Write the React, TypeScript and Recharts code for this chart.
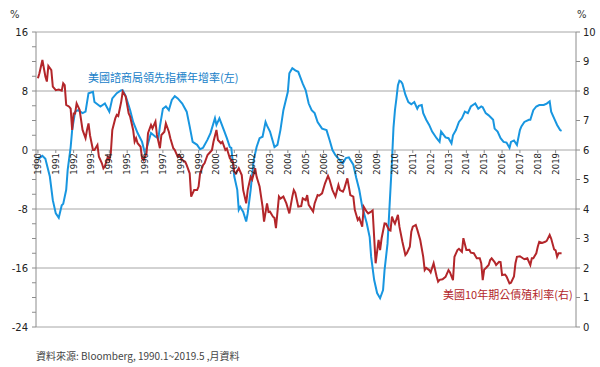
import { LineChart, Line, XAxis, YAxis, CartesianGrid } from "recharts";

// months counted from 1990-01 (0 = 1990.1)
const leiMonths = [
  0, 1, 3, 5, 8, 10, 12, 14, 16, 17, 19, 20, 22, 23, 25, 27, 30, 32, 34, 37, 38, 42, 45, 48, 50, 53, 56, 57, 59,
  62, 64, 67, 70, 72, 74, 76, 79, 81, 82, 84, 86, 88, 90, 92, 94, 97, 100, 102, 104, 107, 109, 111, 114, 116,
  119, 120, 122, 125, 127, 129, 130, 132, 134, 135, 136, 138, 140, 141, 143, 145, 147, 149, 151, 153, 154, 156,
  159, 161, 163, 165, 168, 169, 171, 173, 175, 178, 180, 182, 184, 186, 188, 191, 194, 196, 198, 200, 203, 205,
  207, 209, 212, 214, 216, 218, 221, 223, 224, 226, 228, 230, 232, 233, 235, 236, 238, 239, 240, 241, 242, 243,
  244, 245, 247, 249, 251, 253, 255, 256, 258, 259, 261, 263, 265, 268, 270, 271, 274, 276, 278, 279, 281, 283,
  285, 287, 289, 291, 294, 296, 298, 299, 301, 303, 306, 307, 309, 311, 313, 315, 317, 318, 320, 322, 324, 325,
  327, 330, 331, 333, 335, 337, 340, 342, 344, 345, 347, 349, 351, 352,
];
const leiValues = [
  -1.0, -1.1, -0.8, -1.2, -3.6, -6.8, -8.6, -9.2, -7.5, -7.3, -5.4, -2.7, 0.4, 2.7, 5.2, 5.4, 5.0, 5.2, 7.7, 7.9,
  6.5, 5.9, 6.3, 5.2, 7.0, 7.7, 8.1, 8.1, 7.3,
  5.4, 3.8, 2.3, 1.1, -0.5, 0.9, 2.3, 1.8, 1.6, 3.2, 5.6, 5.9, 5.4, 6.8, 7.3, 7.0, 6.3, 5.2, 3.2, 1.1, 0.7, 0.1,
  0.3, 1.4, 2.3,
  4.3, 3.4, 4.3, 2.7, 1.6, 0.4, 0.3, -3.6, -5.4, -8.1, -7.7, -8.4, -9.7, -8.6, -5.4, -1.4, 0.4, 1.6, 1.8, 3.8,
  3.3, 2.5,
  0.4, 0.7, 2.7, 5.4, 7.9, 10.4, 11.1, 10.8, 10.6, 9.0, 8.1, 6.3, 5.4, 5.0, 3.8, 2.9, 2.7, 1.4, 0.0, -0.7, -1.4,
  -1.8,
  -1.1, -1.0, -2.0, -3.8, -5.4, -7.7, -9.9, -11.8, -14.5, -17.6, -19.4, -20.1, -19.0, -16.3, -12.7, -9.0, -1.5,
  3.0, 5.4, 7.0, 8.8, 9.4,
  9.3, 9.0, 7.5, 6.5, 6.2, 6.5, 5.6, 6.0, 6.1, 5.0, 4.1, 3.4, 2.5, 1.6, 1.1, 2.5, 1.7, 1.6, 0.9, 2.0, 2.7, 3.8,
  4.3, 5.2, 5.0, 5.9, 6.3, 5.6, 5.9, 5.8, 5.0, 4.7, 4.1, 2.9, 2.5, 1.6, 1.1, 1.0, 0.3, 1.1, 1.3, 0.7, 2.7, 3.2,
  3.8, 4.1, 4.1, 5.4, 5.9, 6.1, 6.1, 6.3, 6.6, 5.2, 4.3, 3.4, 2.7, 2.6,
];

const ustMonths = [
  0, 1, 3, 5, 6, 7, 9, 10, 12, 14, 16, 17, 18, 19, 21, 22, 23, 24, 25, 26, 28, 30, 32, 33, 34, 35, 37, 38, 40, 41,
  43, 44, 45, 47, 48, 49, 50, 52, 53, 54, 56, 57, 59, 61, 62, 64, 65, 66, 67, 69, 70, 71, 73, 74, 76, 77, 79, 80,
  82, 83, 85, 86, 88, 89, 91, 92, 94, 95, 97, 99, 100, 102, 103, 105, 107, 108, 109, 111, 112, 114, 116, 117, 118,
  120, 121, 123, 124, 126, 127, 129, 131, 132, 133, 135, 137, 138, 140, 141, 143, 144, 146, 147, 149, 151, 152,
  154, 155, 156, 158, 159, 160, 162, 163, 165, 167, 169, 171, 172, 173, 175, 177, 178, 180, 181, 182, 185, 186,
  188, 189, 191, 193, 195, 196, 198, 200, 202, 203, 205, 206, 208, 209, 210, 212, 213, 215, 216, 218, 219, 221,
  222, 224, 225, 226, 227, 229, 230, 231, 233, 234, 236, 237, 238, 239, 240, 242, 243, 245, 247, 248, 250, 251,
  252, 254, 255, 257, 259, 260, 261, 263, 264, 266, 268, 269, 270, 272, 274, 276, 277, 279, 280, 282, 283, 285,
  286, 288, 290, 291, 293, 295, 297, 298, 299, 300, 301, 303, 304, 305, 307, 308, 310, 311, 312, 314, 315, 317,
  318, 320, 321, 322, 324, 326, 327, 329, 331, 332, 333, 335, 336, 337, 339, 341, 342, 344, 345, 347, 348, 349,
  350, 352,
];
const ustValues = [
  8.43, 8.6, 9.05, 8.49, 8.32, 8.85, 8.71, 8.15, 8.03, 8.05, 8.01, 8.26, 8.2, 7.53, 7.47, 7.4, 6.68, 7.24, 7.24,
  7.58, 7.36, 6.68, 6.4, 6.68, 6.9, 6.5, 6.0, 6.0, 6.17, 5.77,
  5.55, 5.38, 5.45, 5.77, 5.66, 5.9, 6.68, 7.07, 7.19, 7.15, 7.64, 7.98, 7.81, 7.24, 7.13, 6.68, 6.28, 6.4, 6.23,
  6.11, 5.72, 5.66, 5.89, 6.57, 6.85, 6.73, 6.96, 6.51,
  6.06, 6.51, 6.62, 6.9, 6.62, 6.4, 6.06, 6.0, 5.77, 5.83, 5.66, 5.6, 5.49, 5.21, 4.42, 4.64, 4.64, 4.76, 5.21,
  5.49, 5.55, 5.83, 5.94, 6.0, 6.28,
  6.68, 6.34, 6.23, 6.28, 6.0, 6.05, 5.72, 5.6, 5.26, 5.2, 5.38, 5.15, 4.64, 4.19, 4.64, 5.09, 5.0, 5.38, 5.09,
  4.76, 4.08, 3.57,
  4.19, 3.9, 3.91, 3.74, 3.7, 3.35, 4.42, 4.35, 4.42, 4.19, 3.85, 4.42, 4.64, 4.55, 4.08, 4.1, 4.36, 4.3, 4.47,
  4.14, 3.91, 4.19,
  4.47, 4.45, 4.53, 4.87, 5.12, 5.0, 4.64, 4.42, 4.81, 4.64, 4.59, 4.7, 5.04, 4.76, 4.47, 4.42, 3.97, 3.63, 3.7,
  3.4, 4.08, 3.91,
  3.85, 3.91, 3.95, 3.06, 2.16, 2.95, 2.61, 3.0, 3.51, 3.5, 3.29, 3.27, 3.74, 3.6, 3.5, 3.8, 3.4, 2.89, 2.44, 2.5,
  2.72, 3.23,
  3.4, 3.46, 3.3, 2.95, 2.38, 1.93, 2.0, 1.93, 1.85, 2.16, 1.71, 1.54, 1.6, 1.62, 1.7, 1.93, 1.85, 1.59, 2.38,
  2.61, 2.65, 2.55,
  3.01, 2.61, 2.62, 2.52, 2.5, 2.33, 2.33, 2.16, 1.59, 1.95, 1.99, 2.1, 2.27, 2.33, 2.2, 2.1, 2.21, 2.2, 1.76,
  1.78, 1.71, 1.48,
  1.5, 1.71, 2.16, 2.38, 2.4, 2.33, 2.3, 2.33, 2.1, 2.33, 2.33, 2.5, 2.72, 2.89, 2.85, 2.89, 2.92, 3.12, 3.0,
  2.63, 2.6, 2.38,
  2.5, 2.5,
];

const yearTicks = [
  1990, 1991, 1992, 1993, 1994, 1995, 1996, 1997, 1998, 1999, 2000, 2001, 2002, 2003, 2004, 2005, 2006, 2007,
  2008, 2009, 2010, 2011, 2012, 2013, 2014, 2015, 2016, 2017, 2018, 2019,
];
const leftTicks = [-24, -22, -20, -18, -16, -14, -12, -10, -8, -6, -4, -2, 0, 2, 4, 6, 8, 10, 12, 14, 16];
const leftGrid = [16, 8, 0, -8, -16, -24];
const rightTicks = [0, 1, 2, 3, 4, 5, 6, 7, 8, 9, 10];

const leiData = leiMonths.map((m, i) => ({ t: 1990 + m / 12, lei: leiValues[i] }));
const ustData = ustMonths.map((m, i) => ({ t: 1990 + m / 12, ust: ustValues[i] }));

const TOP = 32;
const PLOT_H = 295;
const ZERO_Y = TOP + (PLOT_H * 16) / 40;
const BLUE = "#1896e0";
const RED = "#b3262a";
const AXIS = "#8c8c8c";
const NUM_FONT = "DejaVu Sans, sans-serif";
const CJK_FONT = "'Noto Sans CJK TC', sans-serif";

// year labels sit on the zero line, not at the bottom of the plot
function renderYearTick(props: any) {
  const { x, payload, index } = props;
  const ty = ZERO_Y + 3;
  return (
    <g key={`yr-${index}`}>
      <line x1={x} x2={x} y1={ZERO_Y} y2={ZERO_Y + 3} stroke={AXIS} />
      <text
        x={x}
        y={ty}
        transform={`rotate(-90 ${x} ${ty})`}
        textAnchor="end"
        dominantBaseline="central"
        fontSize={8.5}
        fontFamily={NUM_FONT}
        fill="#222"
      >
        {payload.value}
      </text>
    </g>
  );
}

export default function App() {
  return (
    <div style={{ position: "absolute", left: 0, top: 0, width: 600, height: 367, background: "#fff" }}>
      <LineChart width={600} height={367} margin={{ top: TOP, right: 0, bottom: 28, left: 0 }}>
        <CartesianGrid yAxisId="left" vertical={false} horizontalValues={leftGrid} stroke="#a6a6a6" />
        <XAxis
          dataKey="t"
          type="number"
          domain={[1990 - 1.3 / 12, 1990 + 361.7 / 12]}
          ticks={yearTicks}
          axisLine={false}
          tickLine={false}
          height={12}
          tick={renderYearTick}
          interval={0}
        />
        <YAxis
          yAxisId="left"
          domain={[-24, 16]}
          ticks={leftTicks}
          interval={0}
          width={36}
          tickSize={4}
          tickMargin={4}
          stroke={AXIS}
          tickFormatter={(v: number) => (v % 8 === 0 ? String(v) : "")}
          tick={{ fontSize: 10, fontFamily: NUM_FONT, fill: "#222" }}
        />
        <YAxis
          yAxisId="right"
          orientation="right"
          domain={[0, 10]}
          ticks={rightTicks}
          interval={0}
          width={24}
          tickSize={4}
          tickMargin={3}
          stroke={AXIS}
          tick={{ fontSize: 10, fontFamily: NUM_FONT, fill: "#222", textAnchor: "start" }}
        />
        <Line
          yAxisId="left"
          data={leiData}
          dataKey="lei"
          stroke={BLUE}
          strokeWidth={2}
          dot={false}
          type="linear"
          isAnimationActive={false}
        />
        <Line
          yAxisId="right"
          data={ustData}
          dataKey="ust"
          stroke={RED}
          strokeWidth={2}
          dot={false}
          type="linear"
          isAnimationActive={false}
        />
      </LineChart>
      <svg width={600} height={367} style={{ position: "absolute", left: 0, top: 0, pointerEvents: "none" }}>
        <text x={10} y={18} fontSize={10} fontFamily={NUM_FONT} fill="#333">%</text>
        <text x={577} y={18} fontSize={10} fontFamily={NUM_FONT} fill="#333">%</text>
        <text x={88} y={82} fontSize={11} fontFamily={CJK_FONT} fill="#1580c8">美國諮商局領先指標年增率(左)</text>
        <text x={443} y={299} fontSize={11} fontFamily={CJK_FONT} fill="#b3262a">美國10年期公債殖利率(右)</text>
        <text x={36} y={360} fontSize={10} fontFamily={CJK_FONT} fill="#444">資料來源: Bloomberg, 1990.1~2019.5 ,月資料</text>
      </svg>
    </div>
  );
}
